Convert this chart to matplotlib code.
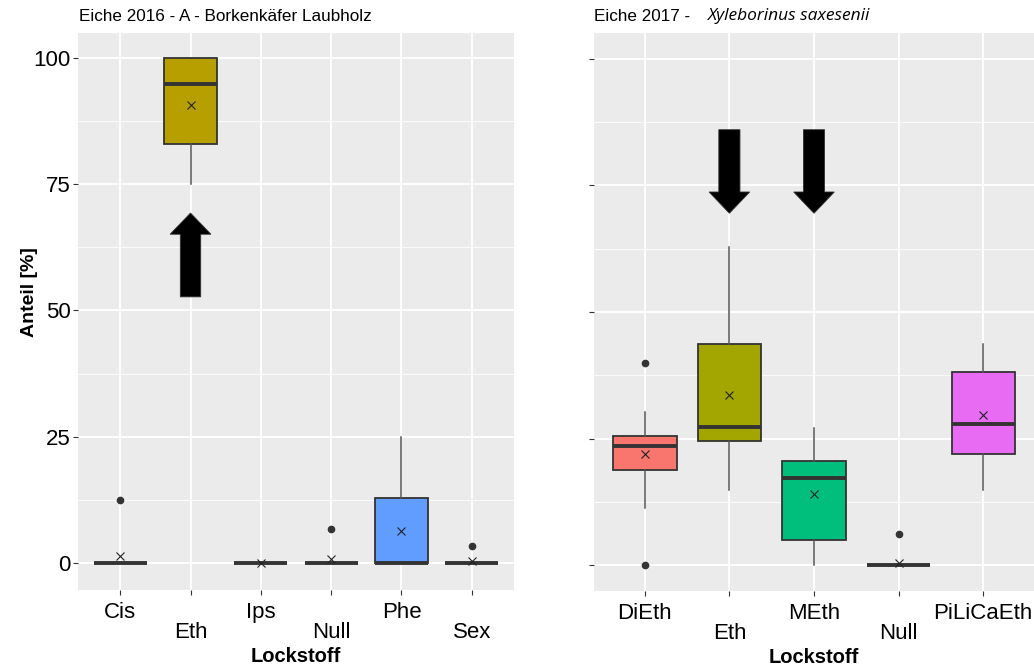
import matplotlib
matplotlib.use("Agg")
import matplotlib.pyplot as plt
from matplotlib.patches import FancyArrow
from matplotlib.ticker import MultipleLocator

plt.rcParams['font.family'] = ['Liberation Sans', 'DejaVu Sans']

# ---------------- data ----------------
left_cats = ["Cis", "Eth", "Ips", "Null", "Phe", "Sex"]
left_q1 = [0, 82.9, 0, 0, 0, 0]
left_med = [0, 94.9, 0, 0, 0, 0]
left_q3 = [0, 100, 0, 0, 12.8, 0]
left_whislo = [0, 75, 0, 0, 0, 0]
left_whishi = [0, 100, 0, 0, 25, 0]
left_mean = [1.45, 90.6, 0, 0.7, 6.4, 0.3]
left_fliers = [[12.4], [], [], [6.8], [], [3.4]]
left_colors = ["#F8766D", "#B79F00", "#00BA38", "#00BFC4", "#619CFF", "#F564E3"]

right_cats = ["DiEth", "Eth", "MEth", "Null", "PiLiCaEth"]
right_q1 = [18.8, 24.6, 4.9, 0, 21.9]
right_med = [23.5, 27.2, 17.3, 0, 27.8]
right_q3 = [25.5, 43.6, 20.5, 0, 38.1]
right_whislo = [11.2, 14.9, 0, 0, 14.9]
right_whishi = [30.2, 62.8, 27.0, 0, 43.6]
right_mean = [21.9, 33.6, 14.0, 0.5, 29.6]
right_fliers = [[0, 39.9], [], [], [6.2], []]
right_colors = ["#F8766D", "#A3A500", "#00BF7D", "#00B0F6", "#E76BF3"]

yticks = [0, 25, 50, 75, 100]
ytick_labels = ["0", "25", "50", "75", "100"]

# arrows: (category index, tail y, tip y)
left_arrows = [(2, 52.7, 69.3)]
right_arrows = [(2, 86.0, 69.5), (3, 86.0, 69.5)]

# ---------------- figure ----------------
W, H = 1034, 667
fig = plt.figure(figsize=(W / 100, H / 100), dpi=100)

def px_axes(x0, y0, x1, y1):
    return fig.add_axes([x0 / W, 1 - y1 / H, (x1 - x0) / W, (y1 - y0) / H])

axL = px_axes(78, 33, 514, 590)
axR = px_axes(594, 33, 1034, 591)


def draw_panel(ax, cats, q1, med, q3, wlo, whi, mean, fliers, colors, ylim):
    ax.set_facecolor("#EBEBEB")
    for s in ax.spines.values():
        s.set_visible(False)
    stats = []
    for i in range(len(cats)):
        stats.append(dict(med=med[i], q1=q1[i], q3=q3[i], whislo=wlo[i],
                          whishi=whi[i], fliers=fliers[i], mean=mean[i]))
    pos = list(range(1, len(cats) + 1))
    bp = ax.bxp(stats, positions=pos, widths=0.75, patch_artist=True,
                showmeans=True, showcaps=False, zorder=3,
                boxprops=dict(edgecolor="#333333", linewidth=1.3),
                medianprops=dict(color="#333333", linewidth=2.8, solid_capstyle="butt"),
                whiskerprops=dict(color="#555555", linewidth=1.1),
                flierprops=dict(marker="o", markerfacecolor="#333333",
                                markeredgecolor="#333333", markersize=4.5),
                meanprops=dict(marker="x", markeredgecolor="#222222",
                               markersize=5.2, markeredgewidth=0.8))
    for patch, c in zip(bp["boxes"], colors):
        patch.set_facecolor(c)
    ax.set_xlim(0.4, len(cats) + 0.6)
    ax.set_ylim(*ylim)
    ax.set_yticks(yticks)
    ax.yaxis.set_minor_locator(MultipleLocator(12.5))
    ax.grid(which="major", color="white", linewidth=1.3, zorder=0)
    ax.grid(which="minor", axis="y", color="white", linewidth=0.6, zorder=0)
    ax.set_axisbelow(True)
    labels = [c if i % 2 == 0 else "\n" + c for i, c in enumerate(cats)]
    ax.set_xticks(pos)
    ax.set_xticklabels(labels, fontsize=16, linespacing=0.95)
    ax.tick_params(axis="both", which="major", length=3.5, width=0.8,
                   color="#333333", labelcolor="black", labelsize=16)
    ax.tick_params(axis="x", pad=5)
    ax.tick_params(axis="y", pad=2)
    ax.tick_params(which="minor", length=0)
    ax.set_xlabel("Lockstoff", fontsize=14.5, fontweight="bold", labelpad=3)


draw_panel(axL, left_cats, left_q1, left_med, left_q3, left_whislo, left_whishi,
           left_mean, left_fliers, left_colors, (-5.35, 104.95))
draw_panel(axR, right_cats, right_q1, right_med, right_q3, right_whislo, right_whishi,
           right_mean, right_fliers, right_colors, (-5.1, 105.1))

axL.set_yticklabels(ytick_labels)
axR.set_yticklabels([""] * len(yticks))


def add_arrows(ax, arrows, width, head_width):
    for xi, tail, tip in arrows:
        hl = 4.2
        ax.add_patch(FancyArrow(xi, tail, 0, tip - tail, width=width,
                                head_width=head_width, head_length=hl,
                                length_includes_head=True, facecolor="black",
                                edgecolor="#333333", linewidth=0.6, zorder=5))


add_arrows(axL, left_arrows, 0.29, 0.58)
add_arrows(axR, right_arrows, 0.25, 0.48)

# titles
fig.text(79 / W, 1 - 16.5 / H, "Eiche 2016 - A - Borkenkäfer Laubholz",
         fontsize=12.3, va="center", ha="left", color="black")
fig.text(594 / W, 1 - 16.5 / H, "Eiche 2017 - ",
         fontsize=12.3, va="center", ha="left", color="black")
fig.text(708 / W, 1 - 16.5 / H, "Xyleborinus saxesenii", fontstyle="italic",
         family=["Open Sans", "Liberation Sans", "DejaVu Sans"],
         fontsize=12.5, va="center", ha="left", color="black")

# y label
fig.text(29 / W, 1 - 292 / H, "Anteil [%]", rotation=90, fontsize=14,
         fontweight="bold", va="center", ha="center")

fig.savefig("out.png", dpi=100, facecolor="white")
